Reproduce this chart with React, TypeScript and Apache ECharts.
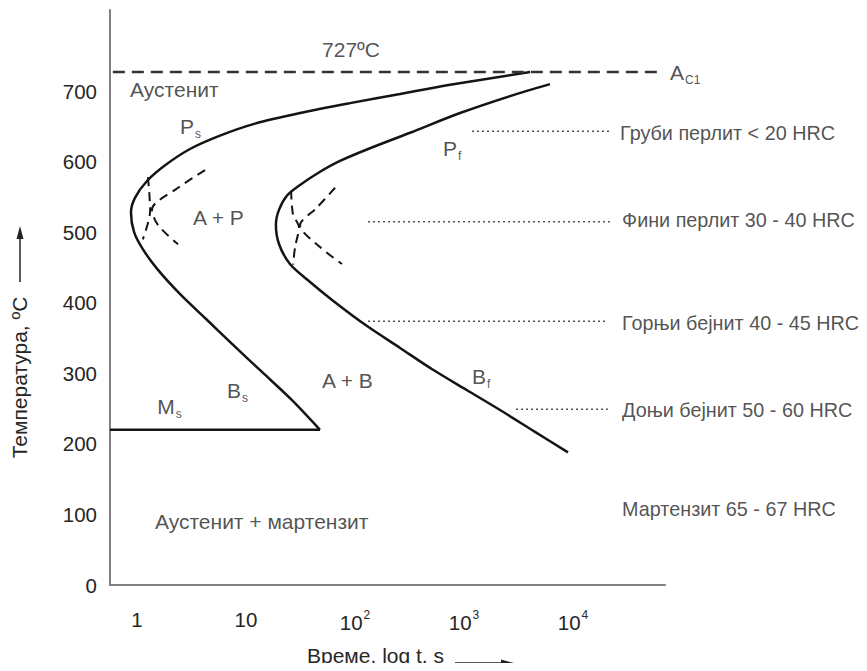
import React, { useEffect, useRef } from 'react';
import * as echarts from 'echarts';

// Axis ranges
const TIME_MIN = 0.565;
const TIME_MAX = 69800;
const TEMP_MAX = 815;
const TEMP_TICK_MAX = 700;
const AC1_TEMP = 727;
const MS_TEMP = 220;

// Ps / Bs curve (start of transformation)
const startTime = [4036, 745, 259, 90, 31.3, 12.1, 5.77, 3.06, 1.81, 1.24, 0.96, 0.88, 0.94, 1.13, 1.55, 2.46, 4.30, 7.40, 14.0, 26.4, 47.7];
const startTemp = [727, 709, 696, 683, 669, 654, 637, 618, 595, 573, 549, 528, 500, 476, 447, 413, 377, 342, 302, 262, 220];

// Pf / Bf curve (end of transformation)
const finishTime = [6150, 2642, 919, 320, 137, 72.8, 45.8, 31.3, 23.8, 20.1, 18.8, 20.1, 25.3, 36.3, 62.8, 129, 259, 520, 1066, 2140, 4480, 8990];
const finishTemp = [710, 693, 669, 641, 619, 601, 584, 567, 552, 532, 511, 483, 455, 433, 403, 367, 336, 305, 276, 248, 217, 188];

// Dashed curves near the first nose
const nose1ChevronTime = [4.21, 2.38, 1.37, 1.56, 2.38];
const nose1ChevronTemp = [588, 563, 532, 510, 483];
const nose1VertTime = [1.26, 1.32, 1.13];
const nose1VertTemp = [578, 531, 490];

// Dashed curves near the second nose
const nose2ChevronTime = [65.6, 44.8, 31.3, 47.7, 76];
const nose2ChevronTemp = [563, 535, 510, 479, 455];
const nose2VertTime = [25.9, 27, 30.6, 28.2, 27];
const nose2VertTemp = [559, 525, 507, 479, 454];

// Ms line end
const msEndTime = 47.7;
// Ac1 line
const ac1Time = [0.6, 62800];

// Dotted leader lines: [from, to, temp]
const leaderFrom = [1184, 131.6, 131.6, 3000];
const leaderTo = [21800, 21800, 20900, 20900];
const leaderTemp = [643, 515, 374, 249];

// Text labels inside the plot (left edge time, temperature, text)
const labelTime = [49.8, 77600, 0.863, 2.48, 3.26, 641, 49.8, 1184, 6.69, 1.53, 1.46];
const labelTemp = [759, 727, 703, 650, 521, 619, 290, 296, 276, 253, 90];
const labelText = [
  '727ºC',
  'A{sub|C1}',
  'Аустенит',
  'P{sub|s}',
  'A + P',
  'P{sub|f}',
  'A + B',
  'B{sub|f}',
  'B{sub|s}',
  'M{sub|s}',
  'Аустенит + мартензит',
];

// Structure / hardness labels on the right
const hardTime = [27000, 28200, 28200, 28200, 28200];
const hardTemp = [641, 518, 371, 248, 108];
const hardText = [
  'Груби перлит < 20 HRC',
  'Фини перлит 30 - 40 HRC',
  'Горњи бејнит 40 - 45 HRC',
  'Доњи бејнит 50 - 60 HRC',
  'Мартензит 65 - 67 HRC',
];

const FONT = "'Liberation Sans', Arial, sans-serif";
const TEXT_COLOR = '#262626';
const LINE_COLOR = '#141414';

const zip = (a: number[], b: number[]) => a.map((v, i) => [v, b[i]]);

export default function App() {
  const ref = useRef<HTMLDivElement>(null);

  useEffect(() => {
    if (!ref.current) return;
    const chart = echarts.init(ref.current, undefined, { renderer: 'svg' });

    const solid = { color: LINE_COLOR, width: 2.5 };
    const dashed = { color: LINE_COLOR, width: 2, type: [9, 6] as number[] };
    const dotted = { color: '#555', width: 1.5, type: [2, 3] as number[] };

    const lineSeries = (data: number[][], lineStyle: any, smooth: number | boolean = false) => ({
      type: 'line',
      data,
      symbol: 'none',
      smooth,
      lineStyle,
      silent: true,
      clip: false,
      z: 3,
    });

    const textSeries = (times: number[], temps: number[], texts: string[], fontSize: number) => ({
      type: 'scatter',
      symbolSize: 0,
      silent: true,
      clip: false,
      z: 5,
      data: times.map((t, i) => ({ value: [t, temps[i]], name: texts[i] })),
      label: {
        show: true,
        position: 'right',
        distance: 0,
        formatter: (p: any) => p.name,
        color: TEXT_COLOR,
        fontFamily: FONT,
        fontSize,
        rich: {
          sub: { fontSize: 12, fontFamily: FONT, color: TEXT_COLOR, padding: [15, 0, 0, 1] },
        },
      },
    });

    const series: any[] = [
      lineSeries(zip(startTime, startTemp), solid, 0.3),
      lineSeries(zip(finishTime, finishTemp), solid, 0.3),
      lineSeries(zip(nose1ChevronTime, nose1ChevronTemp), dashed, 0.3),
      lineSeries(zip(nose1VertTime, nose1VertTemp), dashed, 0.3),
      lineSeries(zip(nose2ChevronTime, nose2ChevronTemp), dashed, 0.3),
      lineSeries(zip(nose2VertTime, nose2VertTemp), dashed, 0.3),
      lineSeries([[TIME_MIN, MS_TEMP], [msEndTime, MS_TEMP]], solid),
      lineSeries([[ac1Time[0], AC1_TEMP], [ac1Time[1], AC1_TEMP]], { color: '#333', width: 2.5, type: [12, 7] }),
    ];
    leaderFrom.forEach((f, i) => {
      series.push(lineSeries([[f, leaderTemp[i]], [leaderTo[i], leaderTemp[i]]], dotted));
    });
    series.push(textSeries(labelTime, labelTemp, labelText, 21));
    series.push(textSeries(hardTime, hardTemp, hardText, 19.8));

    chart.setOption({
      animation: false,
      backgroundColor: '#fff',
      grid: { left: 110, top: 10, right: 202, bottom: 79, containLabel: false },
      xAxis: {
        type: 'log',
        logBase: 10,
        min: TIME_MIN,
        max: TIME_MAX,
        name: 'Време, log t, s',
        nameLocation: 'middle',
        nameGap: 60,
        nameTextStyle: { fontFamily: FONT, fontSize: 21, color: TEXT_COLOR, padding: [0, 24, 0, 0] },
        axisLine: { lineStyle: { color: '#808080', width: 2 } },
        axisTick: { show: false },
        splitLine: { show: false },
        axisLabel: {
          margin: 24,
          color: TEXT_COLOR,
          fontFamily: FONT,
          fontSize: 20.5,
          formatter: (v: number) => {
            const l = Math.log10(v);
            const e = Math.round(l);
            if (Math.abs(l - e) > 1e-6) return '';
            if (e === 0) return '1';
            if (e === 1) return '10';
            return '10{sup|' + e + '}';
          },
          rich: {
            sup: { fontSize: 12, fontFamily: FONT, color: TEXT_COLOR, padding: [0, 0, 15, 1] },
          },
        },
      },
      yAxis: {
        type: 'value',
        min: 0,
        max: TEMP_MAX,
        interval: 100,
        name: 'Температура, ºC',
        nameLocation: 'middle',
        nameGap: 80,
        nameTextStyle: { fontFamily: FONT, fontSize: 21, color: TEXT_COLOR, padding: [0, 160, 0, 0] },
        axisLine: { show: true, lineStyle: { color: '#808080', width: 2 } },
        axisTick: { show: false },
        splitLine: { show: false },
        axisLabel: {
          margin: 13,
          color: TEXT_COLOR,
          fontFamily: FONT,
          fontSize: 20.5,
          formatter: (v: number) => (v <= TEMP_TICK_MAX ? String(v) : ''),
        },
      },
      graphic: [
        { type: 'line', shape: { x1: 20, y1: 282, x2: 20, y2: 236 }, style: { stroke: '#222', lineWidth: 1.5 } },
        { type: 'polygon', shape: { points: [[20, 226], [16.5, 239], [23.5, 239]] }, style: { fill: '#222' } },
        { type: 'line', shape: { x1: 455, y1: 663, x2: 503, y2: 663 }, style: { stroke: '#222', lineWidth: 1.5 } },
        { type: 'polygon', shape: { points: [[514, 663], [501, 659.5], [501, 666.5]] }, style: { fill: '#222' } },
      ],
      series,
    });

    return () => chart.dispose();
  }, []);

  return <div ref={ref} style={{ width: 867, height: 671, margin: -8 }} />;
}
